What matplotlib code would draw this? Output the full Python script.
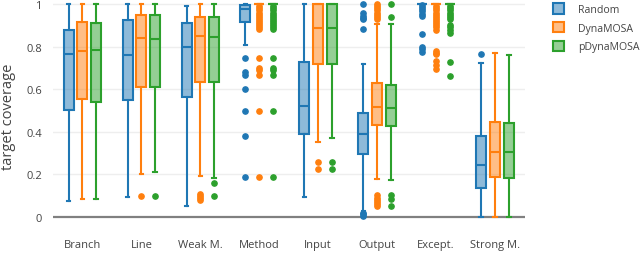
import matplotlib
matplotlib.use("Agg")
import matplotlib.pyplot as plt
from matplotlib.patches import Patch
from matplotlib.colors import to_rgba

categories = ["Branch", "Line", "Weak M.", "Method", "Input", "Output", "Except.", "Strong M."]
series = ["Random", "DynaMOSA", "pDynaMOSA"]
colors = ["#1f77b4", "#ff7f0e", "#2ca02c"]
yticks = [0, 0.2, 0.4, 0.6, 0.8, 1]
yticklabels = ["0", "0.2", "0.4", "0.6", "0.8", "1"]

# Random
rand_whislo = [0.073, 0.094, 0.053, 0.807, 0.095, 0.03, 1.0, 0.0]
rand_q1 = [0.503, 0.548, 0.564, 0.917, 0.392, 0.298, 1.0, 0.136]
rand_med = [0.764, 0.759, 0.800, 0.977, 0.520, 0.392, 1.0, 0.244]
rand_q3 = [0.877, 0.923, 0.912, 0.995, 0.728, 0.487, 1.0, 0.381]
rand_whishi = [1.0, 1.0, 0.99, 1.0, 1.0, 0.72, 1.0, 0.725]
rand_fliers = [
    [], [], [],
    [0.748, 0.68, 0.666, 0.603, 0.50, 0.381, 0.186],
    [],
    [1.0, 0.956, 0.945, 0.935, 0.928, 0.881, 0.02, 0.012, 0.005],
    [0.995, 0.985, 0.975, 0.965, 0.955, 0.945, 0.86, 0.80, 0.79, 0.775],
    [0.764],
]

# DynaMOSA
dyna_whislo = [0.084, 0.203, 0.194, 1.0, 0.353, 0.178, 1.0, 0.0]
dyna_q1 = [0.553, 0.612, 0.636, 1.0, 0.720, 0.431, 1.0, 0.186]
dyna_med = [0.777, 0.842, 0.850, 1.0, 0.886, 0.517, 1.0, 0.303]
dyna_q3 = [0.916, 0.948, 0.940, 1.0, 1.0, 0.627, 1.0, 0.447]
dyna_whishi = [1.0, 1.0, 1.0, 1.0, 1.0, 0.908, 1.0, 0.772]
dyna_fliers = [
    [],
    [0.097],
    [0.11, 0.10, 0.09, 0.08],
    [0.99, 0.98, 0.97, 0.96, 0.95, 0.94, 0.93, 0.92, 0.91, 0.90, 0.89, 0.884,
     0.748, 0.70, 0.69, 0.666, 0.50, 0.186],
    [0.256, 0.225],
    [1.0, 0.99, 0.98, 0.97, 0.96, 0.95, 0.94, 0.93, 0.103, 0.09, 0.08, 0.07, 0.06, 0.05],
    [0.99, 0.98, 0.97, 0.96, 0.95, 0.94, 0.93, 0.92, 0.91, 0.90, 0.89, 0.878,
     0.78, 0.77, 0.764, 0.733, 0.715, 0.694],
    [],
]

# pDynaMOSA
pdyn_whislo = [0.084, 0.211, 0.184, 1.0, 0.369, 0.173, 1.0, 0.0]
pdyn_q1 = [0.542, 0.608, 0.636, 1.0, 0.720, 0.428, 1.0, 0.184]
pdyn_med = [0.783, 0.838, 0.847, 1.0, 0.886, 0.512, 1.0, 0.303]
pdyn_q3 = [0.913, 0.948, 0.940, 1.0, 1.0, 0.620, 1.0, 0.442]
pdyn_whishi = [1.0, 1.0, 1.0, 1.0, 1.0, 0.908, 1.0, 0.762]
pdyn_fliers = [
    [],
    [0.097],
    [0.158, 0.098],
    [0.99, 0.98, 0.97, 0.96, 0.95, 0.94, 0.93, 0.92, 0.91, 0.90, 0.89, 0.884,
     0.748, 0.70, 0.688, 0.666, 0.50, 0.186],
    [0.256, 0.225],
    [1.0, 0.94, 0.103, 0.084, 0.053],
    [0.99, 0.98, 0.97, 0.96, 0.95, 0.94, 0.93, 0.90, 0.89, 0.88, 0.866, 0.73, 0.664],
    [],
]

all_stats = [
    (rand_whislo, rand_q1, rand_med, rand_q3, rand_whishi, rand_fliers),
    (dyna_whislo, dyna_q1, dyna_med, dyna_q3, dyna_whishi, dyna_fliers),
    (pdyn_whislo, pdyn_q1, pdyn_med, pdyn_q3, pdyn_whishi, pdyn_fliers),
]

W, H = 640, 255
fig = plt.figure(figsize=(W / 100, H / 100), dpi=100)
left_px, right_px = 53, 524.5
top_px, bot_px = 2, 232
y0_px, y1_px = 218, 5
ppu = (y0_px - y1_px)
ax = fig.add_axes([left_px / W, 1 - bot_px / H, (right_px - left_px) / W, (bot_px - top_px) / H])
ymin = -(bot_px - y0_px) / ppu
ymax = 1 + (y1_px - top_px) / ppu

offsets = [-0.234, 0.0, 0.234]
bw = 0.17
lw = 1.5
for s, (wl, q1, md, q3, wh, fl) in enumerate(all_stats):
    c = colors[s]
    stats = []
    for i in range(len(categories)):
        stats.append(dict(whislo=wl[i], q1=q1[i], med=md[i], q3=q3[i], whishi=wh[i], fliers=fl[i]))
    pos = [i + offsets[s] for i in range(len(categories))]
    ax.bxp(stats, positions=pos, widths=bw, patch_artist=True, showfliers=True,
           capwidths=0.06,
           boxprops=dict(facecolor=to_rgba(c, 0.5), edgecolor=c, linewidth=lw),
           medianprops=dict(color=c, linewidth=lw),
           whiskerprops=dict(color=c, linewidth=lw),
           capprops=dict(color=c, linewidth=lw),
           flierprops=dict(marker="o", markerfacecolor=c, markeredgecolor=c, markersize=3.8,
                           linestyle="none"),
           manage_ticks=False, zorder=3)

for art in ax.lines:
    art.set_clip_on(False)

ax.set_xlim(-0.5, len(categories) - 0.5)
ax.set_ylim(ymin, ymax)
ax.set_xticks(range(len(categories)))
ax.set_xticklabels(categories)
ax.set_yticks(yticks)
ax.set_yticklabels(yticklabels)
for sp in ax.spines.values():
    sp.set_visible(False)
ax.tick_params(axis="both", length=0, colors="#444444", labelsize=8)
ax.tick_params(axis="x", pad=6)
ax.tick_params(axis="y", pad=8)
for t in ax.get_xticklabels() + ax.get_yticklabels():
    t.set_fontfamily("Open Sans")
for yv in yticks[1:]:
    ax.axhline(yv, color="#eeeeee", linewidth=1, zorder=0)
ax.axhline(0, color="#808080", linewidth=1.6, zorder=1)
ax.set_ylabel("target coverage", fontsize=10.5, color="#444444", family="Open Sans", labelpad=7)

handles = [Patch(facecolor=to_rgba(colors[i], 0.5), edgecolor=colors[i], linewidth=lw, label=series[i])
           for i in range(3)]
fig.legend(handles=handles, loc="upper left", bbox_to_anchor=(549 / W, 1 - 0 / H),
           frameon=False, prop=dict(family="Open Sans", size=7.6), labelcolor="#444444",
           handlelength=1.05, handleheight=1.15, handletextpad=1.3, labelspacing=0.65,
           borderaxespad=0)

fig.savefig("out.png", dpi=100)
